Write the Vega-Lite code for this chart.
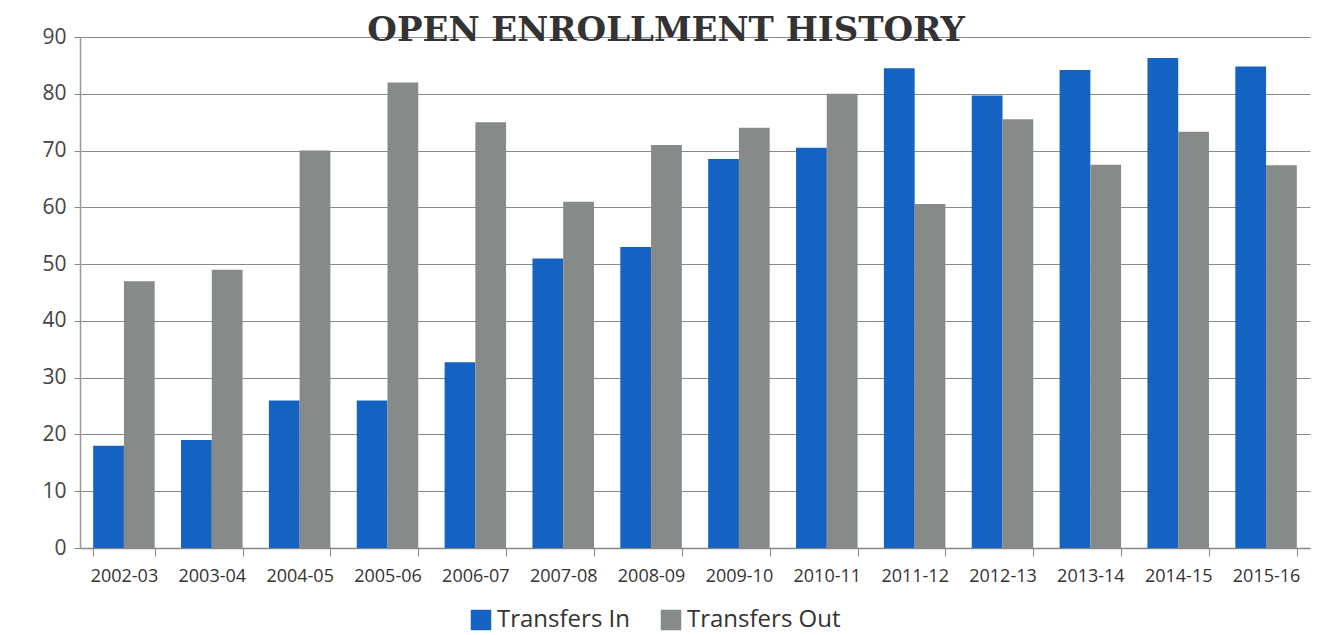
{
  "$schema": "https://vega.github.io/schema/vega-lite/v6.json",
  "width": 1230,
  "height": 511,
  "autosize": "none",
  "padding": {"left": 80, "top": 37, "right": 20, "bottom": 87},
  "background": "white",
  "title": {
    "text": "OPEN ENROLLMENT HISTORY",
    "font": "DejaVu Serif",
    "fontWeight": "bold",
    "fontSize": 34,
    "color": "#333333",
    "anchor": "middle",
    "dx": -29,
    "offset": -49,
    "baseline": "alphabetic"
  },
  "data": {
    "values": [
      {"year": "2002-03", "series": "Transfers In", "value": 18},
      {"year": "2002-03", "series": "Transfers Out", "value": 47},
      {"year": "2003-04", "series": "Transfers In", "value": 19},
      {"year": "2003-04", "series": "Transfers Out", "value": 49},
      {"year": "2004-05", "series": "Transfers In", "value": 26},
      {"year": "2004-05", "series": "Transfers Out", "value": 70},
      {"year": "2005-06", "series": "Transfers In", "value": 26},
      {"year": "2005-06", "series": "Transfers Out", "value": 82},
      {"year": "2006-07", "series": "Transfers In", "value": 32.7},
      {"year": "2006-07", "series": "Transfers Out", "value": 75},
      {"year": "2007-08", "series": "Transfers In", "value": 51},
      {"year": "2007-08", "series": "Transfers Out", "value": 61},
      {"year": "2008-09", "series": "Transfers In", "value": 53},
      {"year": "2008-09", "series": "Transfers Out", "value": 71},
      {"year": "2009-10", "series": "Transfers In", "value": 68.5},
      {"year": "2009-10", "series": "Transfers Out", "value": 74},
      {"year": "2010-11", "series": "Transfers In", "value": 70.5},
      {"year": "2010-11", "series": "Transfers Out", "value": 80},
      {"year": "2011-12", "series": "Transfers In", "value": 84.5},
      {"year": "2011-12", "series": "Transfers Out", "value": 60.6},
      {"year": "2012-13", "series": "Transfers In", "value": 79.7},
      {"year": "2012-13", "series": "Transfers Out", "value": 75.5},
      {"year": "2013-14", "series": "Transfers In", "value": 84.2},
      {"year": "2013-14", "series": "Transfers Out", "value": 67.5},
      {"year": "2014-15", "series": "Transfers In", "value": 86.3},
      {"year": "2014-15", "series": "Transfers Out", "value": 73.3},
      {"year": "2015-16", "series": "Transfers In", "value": 84.8},
      {"year": "2015-16", "series": "Transfers Out", "value": 67.4}
    ]
  },
  "mark": {"type": "bar"},
  "encoding": {
    "x": {
      "field": "year",
      "type": "nominal",
      "sort": null,
      "scale": {"paddingInner": 0.3, "paddingOuter": 0.15},
      "axis": {
        "title": null,
        "labelAngle": 0,
        "labelFont": "Open Sans",
        "labelFontSize": 18,
        "labelColor": "#333333",
        "labelPadding": 11,
        "domainColor": "#888888",
        "domainWidth": 1.5,
        "tickColor": "#888888",
        "tickBand": "extent",
        "tickSize": 8,
        "grid": false
      }
    },
    "xOffset": {"field": "series", "type": "nominal"},
    "y": {
      "field": "value",
      "type": "quantitative",
      "scale": {"domain": [0, 90], "nice": false},
      "axis": {
        "title": null,
        "values": [0, 10, 20, 30, 40, 50, 60, 70, 80, 90],
        "labelFont": "Open Sans",
        "labelFontSize": 21,
        "labelColor": "#444444",
        "labelPadding": 8,
        "domain": true,
        "domainColor": "#999999",
        "domainWidth": 1.5,
        "ticks": true,
        "tickSize": 6,
        "tickColor": "#888888",
        "grid": true,
        "gridColor": "#8a8a8a",
        "gridWidth": 1.2,
        "gridOpacity": 1
      }
    },
    "color": {
      "field": "series",
      "type": "nominal",
      "scale": {"domain": ["Transfers In", "Transfers Out"], "range": ["#1462c1", "#868a88"]},
      "legend": {
        "title": null,
        "orient": "none",
        "legendX": 389,
        "legendY": 571,
        "direction": "horizontal",
        "symbolType": "square",
        "symbolSize": 420,
        "symbolOpacity": 1,
        "labelFont": "Open Sans",
        "labelFontSize": 24,
        "labelColor": "#333333",
        "columnPadding": 29
      }
    }
  },
  "config": {"view": {"stroke": null}}
}
